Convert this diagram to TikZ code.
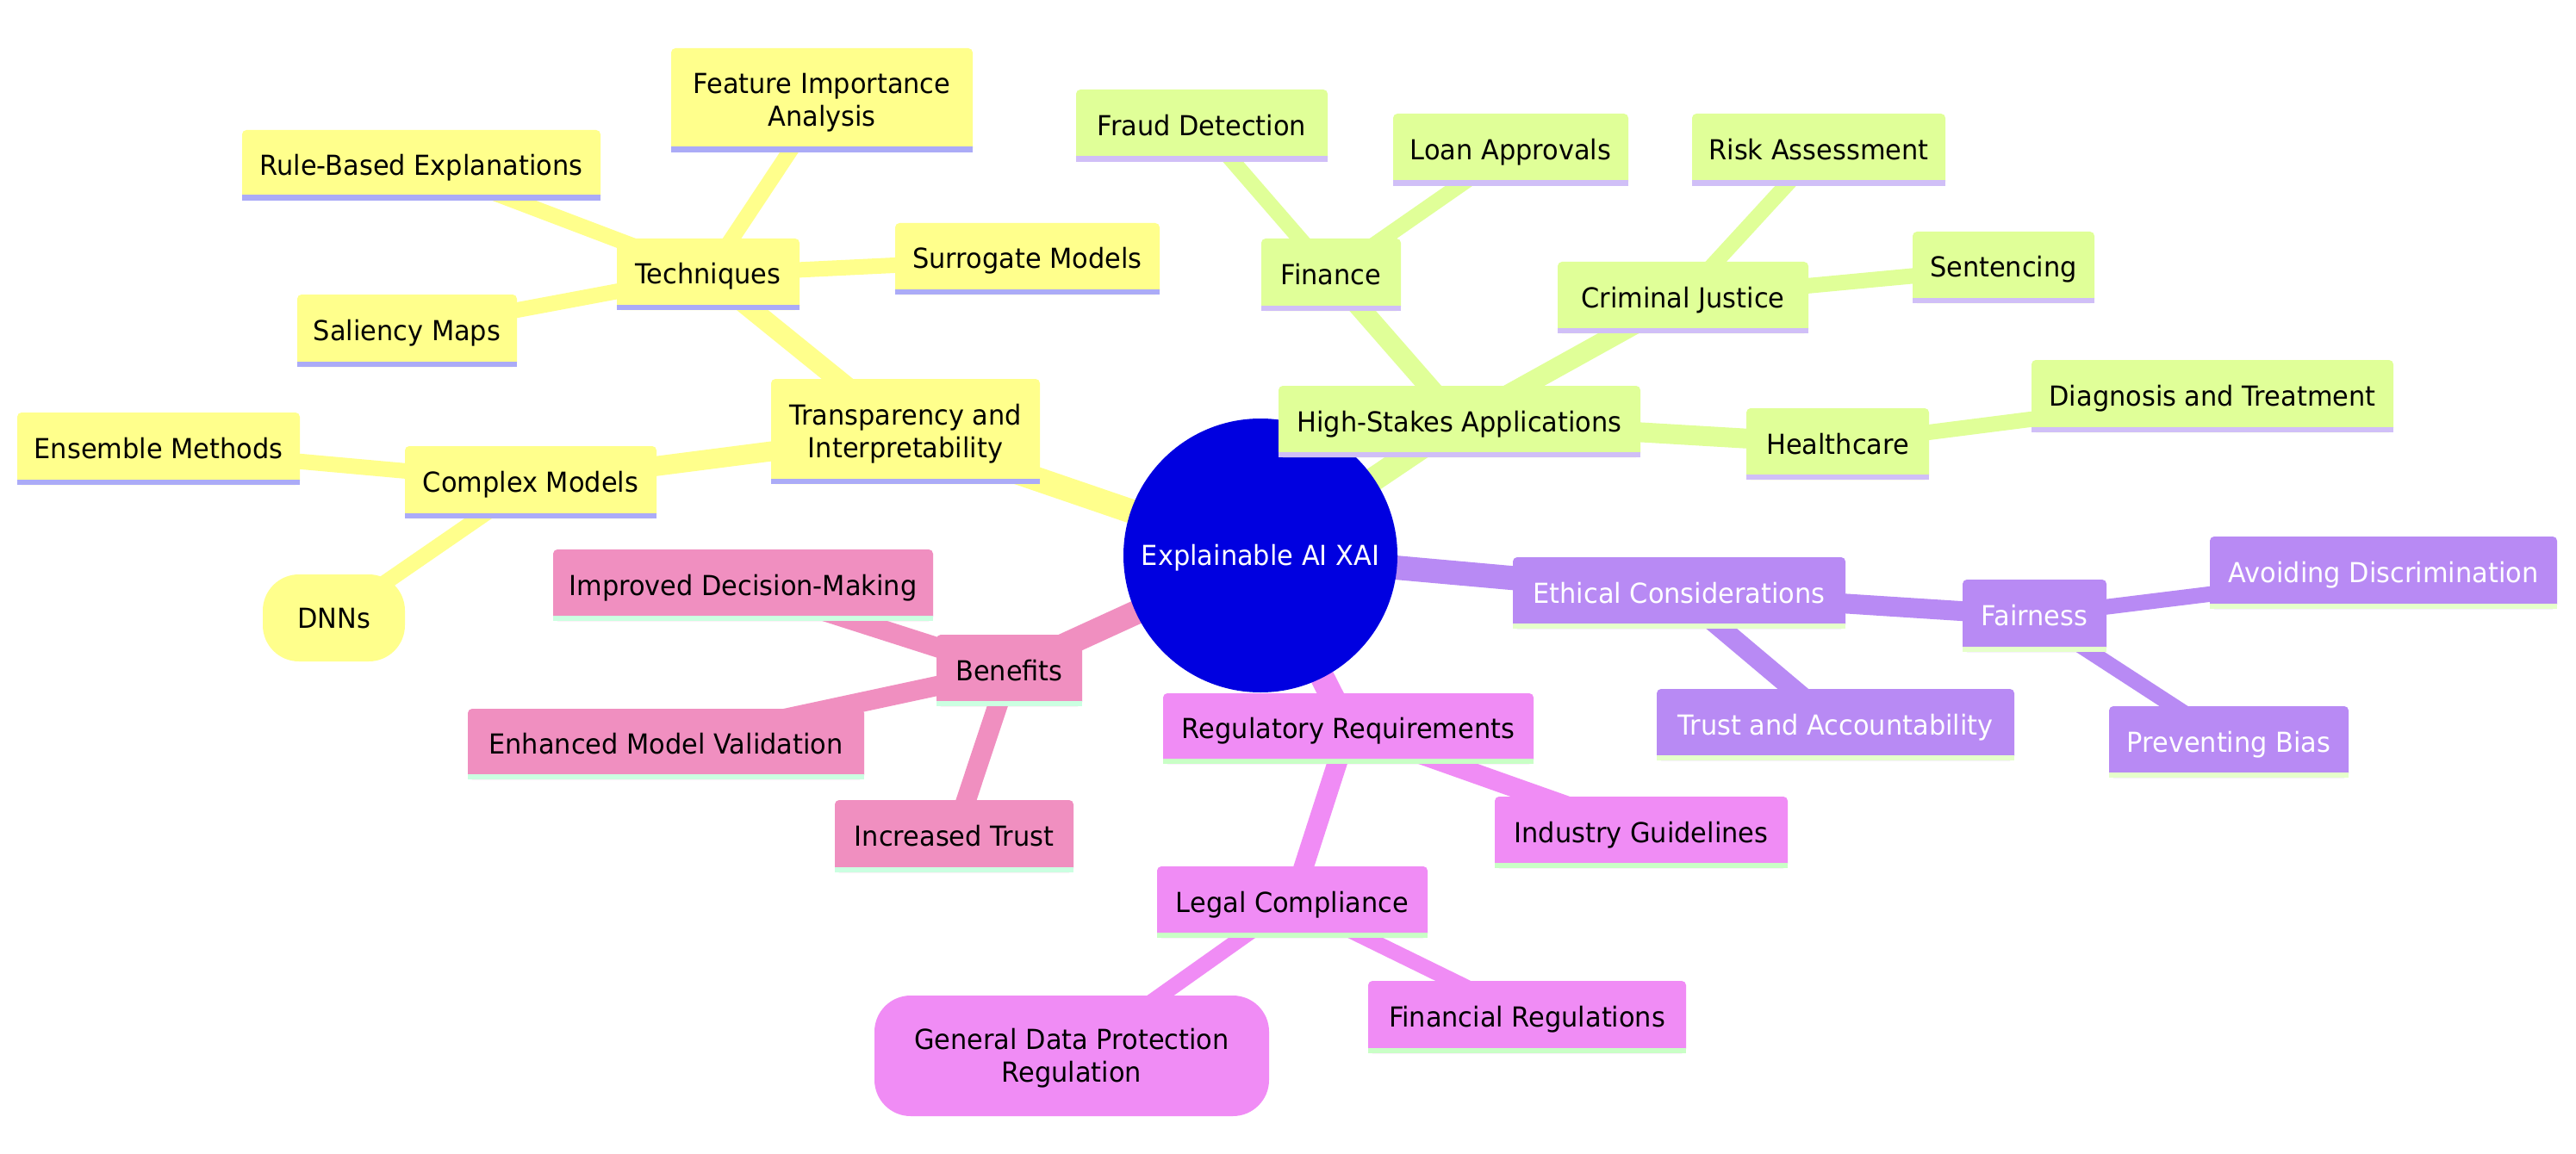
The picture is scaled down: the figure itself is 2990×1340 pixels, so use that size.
\documentclass[tikz,border=0pt]{standalone}
\usepackage{fontspec}
\setmainfont{DejaVu Sans}[FakeStretch=0.95]
\usetikzlibrary{backgrounds}
\definecolor{rootc}{HTML}{0000E0}
\definecolor{Yfill}{HTML}{FFFF8C}\definecolor{Yline}{HTML}{ABABF7}\colorlet{Ytxt}{black}
\definecolor{Gfill}{HTML}{E0FF98}\definecolor{Gline}{HTML}{D0BFF7}\colorlet{Gtxt}{black}
\definecolor{Pfill}{HTML}{B88AF4}\definecolor{Pline}{HTML}{E6FFCB}\colorlet{Ptxt}{white}
\definecolor{Mfill}{HTML}{F08CF5}\definecolor{Mline}{HTML}{C9FFC6}\colorlet{Mtxt}{black}
\definecolor{Kfill}{HTML}{F08FC0}\definecolor{Kline}{HTML}{CBFFE1}\colorlet{Ktxt}{black}
\tikzset{
  mmtext/.style={font=\fontsize{32pt}{38pt}\selectfont, inner sep=0pt},
  mmone/.style={text height=23pt, text depth=0pt},
  mmtwo/.style={align=center, yshift=-3pt},
  eA/.style={line width=28pt},
  eB/.style={line width=23pt},
  eC/.style={line width=18pt},
}
% name, x1, y1, x2, y2, section, text, extra style
\newcommand\mmbox[8]{%
  \fill[#6fill, rounded corners=5pt] (#2,#3) rectangle (#4,#5);
  \fill[#6fill] (#2,#3+20) rectangle (#4,#5);
  \fill[#6line] (#2,#5-6.5) rectangle (#4,#5);
  \pgfmathsetmacro\mmcx{(#2+#4)/2}\pgfmathsetmacro\mmcy{(#3+#5)/2}
  \node[mmtext, text=#6txt, #8] (#1) at (\mmcx,\mmcy) {#7};
}
% rounded variant (no underline)
\newcommand\mmround[8]{%
  \fill[#6fill, rounded corners=42pt] (#2,#3) rectangle (#4,#5);
  \pgfmathsetmacro\mmcx{(#2+#4)/2}\pgfmathsetmacro\mmcy{(#3+#5)/2}
  \node[mmtext, text=#6txt, #8] (#1) at (\mmcx,\mmcy) {#7};
}
\begin{document}
\begin{tikzpicture}[x=1pt, y=-1pt]
\useasboundingbox (0,0) rectangle (2990,1340);
\node[circle, fill=rootc, minimum size=318pt, inner sep=0pt, text=white, mmtext, mmone] (root) at (1463,645) {Explainable AI XAI};
% Yellow section
\mmbox{TI}{895}{440}{1207}{562}{Y}{Transparency and\\Interpretability}{mmtwo}
\mmbox{Tech}{716}{277}{928}{360}{Y}{Techniques}{mmone}
\mmbox{FIA}{779}{56}{1129}{177}{Y}{Feature Importance\\Analysis}{mmtwo}
\mmbox{RBE}{281}{151}{697}{233}{Y}{Rule-Based Explanations}{mmone}
\mmbox{Surr}{1039}{259}{1346}{342}{Y}{Surrogate Models}{mmone}
\mmbox{Sal}{345}{342}{600}{426}{Y}{Saliency Maps}{mmone}
\mmbox{CM}{470}{518}{762}{602}{Y}{Complex Models}{mmone}
\mmbox{EM}{20}{479}{348}{563}{Y}{Ensemble Methods}{mmone}
\mmround{DNN}{305}{667}{470}{768}{Y}{DNNs}{mmone}
% Green section
\mmbox{HSA}{1484}{448}{1904}{531}{G}{High-Stakes Applications}{mmone}
\mmbox{Fin}{1464}{277}{1626}{361}{G}{Finance}{mmone}
\mmbox{FD}{1249}{104}{1541}{188}{G}{Fraud Detection}{mmone}
\mmbox{LA}{1617}{132}{1890}{216}{G}{Loan Approvals}{mmone}
\mmbox{CJ}{1808}{304}{2099}{387}{G}{Criminal Justice}{mmone}
\mmbox{RA}{1964}{132}{2258}{216}{G}{Risk Assessment}{mmone}
\mmbox{Sent}{2220}{269}{2431}{352}{G}{Sentencing}{mmone}
\mmbox{Hc}{2027}{474}{2239}{557}{G}{Healthcare}{mmone}
\mmbox{DT}{2358}{418}{2778}{502}{G}{Diagnosis and Treatment}{mmone}
% Purple section
\mmbox{EC}{1756}{647}{2142}{730}{P}{Ethical Considerations}{mmone}
\mmbox{Fair}{2278}{673}{2445}{757}{P}{Fairness}{mmone}
\mmbox{AD}{2565}{623}{2968}{707}{P}{Avoiding Discrimination}{mmone}
\mmbox{TA}{1923}{800}{2338}{883}{P}{Trust and Accountability}{mmone}
\mmbox{PB}{2448}{820}{2726}{903}{P}{Preventing Bias}{mmone}
% Magenta section
\mmbox{RR}{1350}{805}{1780}{887}{M}{Regulatory Requirements}{mmone}
\mmbox{IG}{1735}{925}{2075}{1008}{M}{Industry Guidelines}{mmone}
\mmbox{LC}{1343}{1006}{1657}{1089}{M}{Legal Compliance}{mmone}
\mmround{GDPR}{1015}{1156}{1473}{1296}{M}{General Data Protection\\Regulation}{mmtwo}
\mmbox{FR}{1588}{1139}{1957}{1223}{M}{Financial Regulations}{mmone}
% Pink section
\mmbox{Ben}{1087}{737}{1256}{820}{K}{Benefits}{mmone}
\mmbox{IDM}{642}{638}{1083}{721}{K}{Improved Decision-Making}{mmone}
\mmbox{EMV}{543}{823}{1003}{905}{K}{Enhanced Model Validation}{mmone}
\mmbox{IT}{969}{929}{1246}{1013}{K}{Increased Trust}{mmone}
\begin{pgfonlayer}{background}
\fill[white] (0,0) rectangle (2990,1340);
% yellow
\draw[Yfill, eA] (root.center) -- (TI.center);
\draw[Yfill, eB] (TI.center) -- (Tech.center);
\draw[Yfill, eB] (TI.center) -- (CM.center);
\draw[Yfill, eC] (Tech.center) -- (FIA.center);
\draw[Yfill, eC] (Tech.center) -- (RBE.center);
\draw[Yfill, eC] (Tech.center) -- (Surr.center);
\draw[Yfill, eC] (Tech.center) -- (Sal.center);
\draw[Yfill, eC] (CM.center) -- (EM.center);
\draw[Yfill, eC] (CM.center) -- (DNN.center);
% green
\draw[Gfill, eA] (root.center) -- (HSA.center);
\draw[Gfill, eB] (HSA.center) -- (Fin.center);
\draw[Gfill, eB] (HSA.center) -- (CJ.center);
\draw[Gfill, eB] (HSA.center) -- (Hc.center);
\draw[Gfill, eC] (Fin.center) -- (FD.center);
\draw[Gfill, eC] (Fin.center) -- (LA.center);
\draw[Gfill, eC] (CJ.center) -- (RA.center);
\draw[Gfill, eC] (CJ.center) -- (Sent.center);
\draw[Gfill, eC] (Hc.center) -- (DT.center);
% purple
\draw[Pfill, eA] (root.center) -- (EC.center);
\draw[Pfill, eB] (EC.center) -- (Fair.center);
\draw[Pfill, eB] (EC.center) -- (TA.center);
\draw[Pfill, eC] (Fair.center) -- (AD.center);
\draw[Pfill, eC] (Fair.center) -- (PB.center);
% magenta
\draw[Mfill, eA] (root.center) -- (RR.center);
\draw[Mfill, eB] (RR.center) -- (LC.center);
\draw[Mfill, eB] (RR.center) -- (IG.center);
\draw[Mfill, eC] (LC.center) -- (GDPR.center);
\draw[Mfill, eC] (LC.center) -- (FR.center);
% pink
\draw[Kfill, eA] (root.center) -- (Ben.center);
\draw[Kfill, eB] (Ben.center) -- (IDM.center);
\draw[Kfill, eB] (Ben.center) -- (EMV.center);
\draw[Kfill, eB] (Ben.center) -- (IT.center);
\end{pgfonlayer}
\end{tikzpicture}
\end{document}
